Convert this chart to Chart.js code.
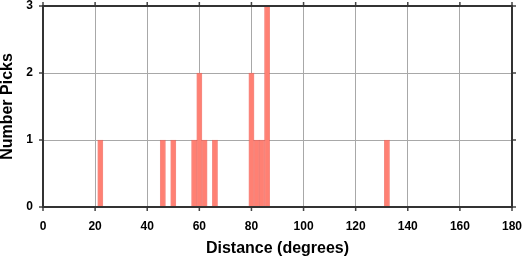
<!DOCTYPE html>
<html>
<head>
<meta charset="utf-8">
<script src="https://cdn.jsdelivr.net/npm/chart.js@4/dist/chart.umd.min.js"></script>
<style>
  html, body { margin: 0; padding: 0; background: #fff; }
  #wrap { width: 523px; height: 258px; position: relative; }
</style>
</head>
<body>
<div id="wrap"><canvas id="histChart"></canvas></div>
<script>
// histogram bins (2 degree wide, centre value) and pick counts
const binCenters = [22, 46, 50, 58, 60, 62, 66, 80, 82, 84, 86, 132];
const pickCounts = [1, 1, 1, 1, 2, 1, 1, 2, 1, 1, 3, 1];
const xTicks = [0, 20, 40, 60, 80, 100, 120, 140, 160, 180];
const yTicks = [0, 1, 2, 3];

const FONT = "'Liberation Sans', Arial, Helvetica, sans-serif";

// frame + outward tick marks on all four sides
const framePlugin = {
  id: "frame",
  afterDraw(chart) {
    const { ctx, chartArea: a, scales } = chart;
    ctx.save();
    ctx.strokeStyle = "#444";
    ctx.lineWidth = 1.5;
    ctx.beginPath();
    scales.x.ticks.forEach((t, i) => {
      const px = scales.x.getPixelForTick(i);
      ctx.moveTo(px, a.bottom); ctx.lineTo(px, a.bottom + 4);
      ctx.moveTo(px, a.top); ctx.lineTo(px, a.top - 4);
    });
    scales.y.ticks.forEach((t, i) => {
      const py = scales.y.getPixelForTick(i);
      ctx.moveTo(a.left, py); ctx.lineTo(a.left - 4, py);
      ctx.moveTo(a.right, py); ctx.lineTo(a.right + 4, py);
    });
    ctx.stroke();
    ctx.strokeStyle = "#333";
    ctx.lineWidth = 2;
    ctx.strokeRect(a.left, a.top, a.right - a.left, a.bottom - a.top);
    ctx.restore();
  }
};

const ctx = document.getElementById("histChart");

new Chart(ctx, {
  type: "bar",
  data: {
    datasets: [
      {
        label: "Picks",
        data: binCenters.map((c, i) => ({ x: c, y: pickCounts[i] })),
        backgroundColor: "rgb(255,128,115)",
        borderColor: "rgba(240,90,80,0.7)",
        borderWidth: 1,
        borderSkipped: "bottom",
        barPercentage: 1,
        categoryPercentage: 1
      }
    ]
  },
  options: {
    responsive: true,
    maintainAspectRatio: false,
    devicePixelRatio: 1,
    animation: false,
    layout: { padding: { top: 6, right: 11, left: 0, bottom: 0 } },
    plugins: {
      legend: { display: false },
      tooltip: { enabled: false }
    },
    scales: {
      x: {
        type: "linear",
        min: 0,
        max: 180,
        offset: false,
        border: { display: false },
        grid: { color: "#a8a8a8", lineWidth: 1, drawTicks: false, offset: false },
        afterBuildTicks(scale) { scale.ticks = xTicks.map(v => ({ value: v })); },
        ticks: {
          autoSkip: false,
          color: "#000",
          padding: 12,
          maxRotation: 0,
          font: { family: FONT, size: 12, weight: "bold" }
        },
        title: {
          display: true,
          text: "Distance (degrees)",
          color: "#000",
          padding: { top: 0, bottom: 1 },
          font: { family: FONT, size: 16, weight: "bold", lineHeight: 1 }
        },
        afterFit(scale) {
          scale.height = 51;
          scale.paddingLeft = 0;
          scale.paddingRight = 0;
        }
      },
      y: {
        min: 0,
        max: 3,
        border: { display: false },
        grid: { color: "#a8a8a8", lineWidth: 1, drawTicks: false },
        afterBuildTicks(scale) { scale.ticks = yTicks.map(v => ({ value: v })); },
        ticks: {
          autoSkip: false,
          color: "#000",
          padding: 10,
          font: { family: FONT, size: 12, weight: "bold" }
        },
        title: {
          display: true,
          text: "Number Picks",
          color: "#000",
          padding: { top: 0, bottom: 0 },
          font: { family: FONT, size: 16, weight: "bold", lineHeight: 0.9 }
        },
        afterFit(scale) {
          scale.width = 43;
          scale.paddingTop = 0;
          scale.paddingBottom = 0;
        }
      }
    }
  },
  plugins: [framePlugin]
});
</script>
</body>
</html>
